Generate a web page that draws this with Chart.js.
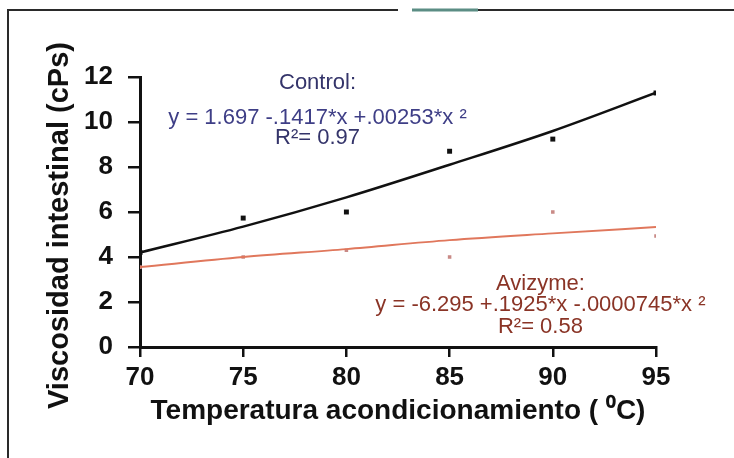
<!DOCTYPE html>
<html lang="es">
<head>
<meta charset="UTF-8">
<title>Viscosidad intestinal</title>
<script src="https://cdn.jsdelivr.net/npm/chart.js"></script>
<style>
  html, body { margin: 0; padding: 0; background: #fff; }
</style>
</head>
<body>
<canvas id="chart" width="734" height="458"></canvas>
<script>
// values
const temps = [70, 75, 80, 85, 90, 95];
const controlObs = [4.2, 5.73, 6.0, 8.7, 9.24, 11.29];
const avizymeObs = [3.55, 4.0, 4.3, 4.0, 6.0, 4.93];
const controlFit = [4.2, 5.35, 6.65, 8.1, 9.6, 11.3];
const avizymeFit = [3.55, 4.0, 4.35, 4.75, 5.05, 5.33];
const xTicks = [70, 75, 80, 85, 90, 95];
const yTicks = [0, 2, 4, 6, 8, 10, 12];
const yTitle = 'Viscosidad intestinal (cPs)';
const xTitle = 'Temperatura acondicionamiento ( \u2070C)';

// text blocks for the fitted equations, anchored in data units
const controlNote = { x: 78.6, lines: [
  { y: 11.73, text: 'Control:', color: '#34346a' },
  { y: 10.2, text: 'y = 1.697 -.1417*x +.00253*x \u00b2', color: '#3e3e86' },
  { y: 9.3, text: 'R\u00b2= 0.97', color: '#34346a' }
]};
const avizymeNote = { x: 89.4, lines: [
  { y: 2.8, text: 'Avizyme:', color: '#8a3426' },
  { y: 1.85, text: 'y = -6.295 +.1925*x -.0000745*x \u00b2', color: '#8a3426' },
  { y: 0.9, text: 'R\u00b2= 0.58', color: '#8a3426' }
]};

const pts = (ys) => temps.map((t, i) => ({ x: t, y: ys[i] }));
const FONT = '"Liberation Sans", Arial, sans-serif';

// outer frame of the scanned figure
const framePlugin = {
  id: 'frame',
  beforeDraw(chart) {
    const c = chart.ctx;
    c.save();
    c.fillStyle = '#fff';
    c.fillRect(0, 0, chart.width, chart.height);
    c.strokeStyle = '#2a2a2a';
    c.lineWidth = 2;
    c.beginPath();
    c.moveTo(8, 458);
    c.lineTo(8, 10);
    c.lineTo(398, 10);
    c.moveTo(478, 10);
    c.lineTo(734, 10);
    c.stroke();
    c.strokeStyle = '#5b8d84';
    c.lineWidth = 3;
    c.beginPath();
    c.moveTo(412, 10);
    c.lineTo(478, 10);
    c.stroke();
    c.restore();
  }
};

const notesPlugin = {
  id: 'notes',
  afterDatasetsDraw(chart) {
    const c = chart.ctx;
    const xs = chart.scales.x, ys = chart.scales.y;
    c.save();
    c.font = '22px ' + FONT;
    c.textAlign = 'center';
    c.textBaseline = 'middle';
    [controlNote, avizymeNote].forEach(n => {
      n.lines.forEach(l => {
        c.fillStyle = l.color;
        c.fillText(l.text, xs.getPixelForValue(n.x), ys.getPixelForValue(l.y));
      });
    });
    // y axis title, sits a little below the axis middle in the original
    c.font = 'bold 29px ' + FONT;
    c.fillStyle = '#111';
    c.translate(60, ys.getPixelForValue(5.4));
    c.rotate(-Math.PI / 2);
    c.fillText(yTitle, 0, 0);
    c.restore();
  }
};

new Chart(document.getElementById('chart'), {
  type: 'scatter',
  data: {
    datasets: [
      {
        label: 'Control ajuste',
        data: pts(controlFit),
        showLine: true,
        borderColor: '#111',
        borderWidth: 2.5,
        pointRadius: 0,
        tension: 0.4,
        cubicInterpolationMode: 'monotone'
      },
      {
        label: 'Avizyme ajuste',
        data: pts(avizymeFit),
        showLine: true,
        borderColor: '#e0775c',
        borderWidth: 2,
        pointRadius: 0,
        tension: 0.4,
        cubicInterpolationMode: 'monotone'
      },
      {
        label: 'Control',
        data: pts(controlObs),
        pointStyle: 'rect',
        pointRadius: 3.5,
        backgroundColor: '#111',
        borderColor: '#111',
        borderWidth: 0
      },
      {
        label: 'Avizyme',
        data: pts(avizymeObs),
        pointStyle: 'rect',
        pointRadius: 2.5,
        backgroundColor: '#c98a86',
        borderColor: '#c98a86',
        borderWidth: 0
      }
    ]
  },
  options: {
    responsive: false,
    animation: false,
    layout: { padding: { left: 0, right: 78, top: 77, bottom: 0 } },
    plugins: {
      legend: { display: false },
      tooltip: { enabled: false }
    },
    scales: {
      x: {
        type: 'linear',
        min: 70,
        max: 95,
        afterBuildTicks: (s) => { s.ticks = xTicks.map(v => ({ value: v })); },
        afterFit: (s) => { s.height = 111; },
        grid: { drawOnChartArea: false, drawTicks: true, tickLength: 10, color: '#111', lineWidth: 2.5 },
        border: { color: '#111', width: 3 },
        ticks: { color: '#111', padding: 5, font: { family: FONT, size: 26, weight: 'bold' } },
        title: {
          display: true,
          text: xTitle,
          color: '#111',
          padding: { top: 0, bottom: 30 },
          font: { family: FONT, size: 28, weight: 'bold' }
        }
      },
      y: {
        min: 0,
        max: 12,
        afterBuildTicks: (s) => { s.ticks = yTicks.map(v => ({ value: v })); },
        afterFit: (s) => { s.width = 140; },
        grid: { drawOnChartArea: false, drawTicks: true, tickLength: 12, color: '#111', lineWidth: 2.5 },
        border: { color: '#111', width: 3 },
        ticks: { color: '#111', padding: 15, font: { family: FONT, size: 26, weight: 'bold' } },
        title: { display: false }
      }
    }
  },
  plugins: [framePlugin, notesPlugin]
});
</script>
</body>
</html>
